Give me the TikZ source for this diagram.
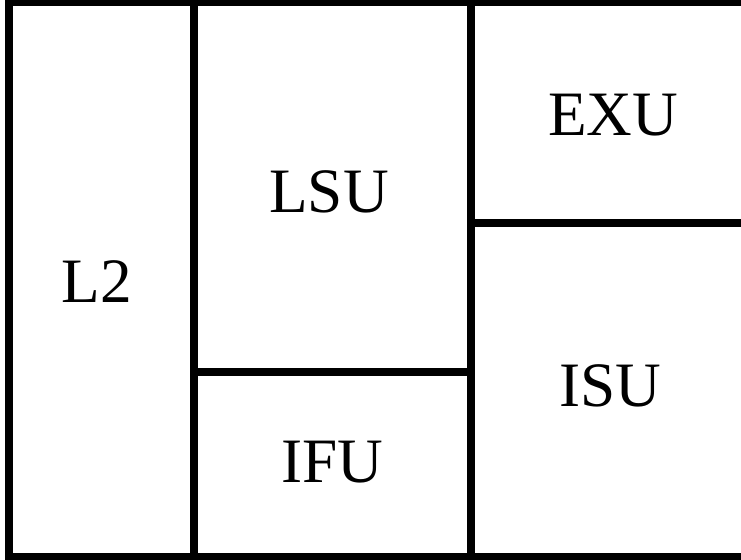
\documentclass[tikz,border=0pt]{standalone}
\usepackage{fontspec}
\setmainfont{Liberation Serif}
\usetikzlibrary{positioning}

\begin{document}
\begin{tikzpicture}[
      x=0.02cm, y=-0.02cm,
      wall/.style={draw=black, line width=0.16cm},
      unit/.style={font=\fontsize{36}{40}\selectfont, inner sep=0pt}
    ]
      \clip (0,0) rectangle (741,560);
      \useasboundingbox (0,0) rectangle (741,560);

      % outline and partitions
      \draw[wall] (9,2) rectangle (757,557);
      \draw[wall] (194,2) -- (194,557);
      \draw[wall] (471,2) -- (471,557);
      \draw[wall] (194,372) -- (471,372);
      \draw[wall] (471,223) -- (757,223);

      % unit labels
      \node[unit] (l2)  at (97,282)  {L2};
      \node[unit] (lsu) at (329,192) {LSU};
      \node[unit] (ifu) at (332,462) {IFU};
      \node[unit] (exu) at (613,115) {EXU};
      \node[unit] (isu) at (610,386) {ISU};
    \end{tikzpicture}
\end{document}
